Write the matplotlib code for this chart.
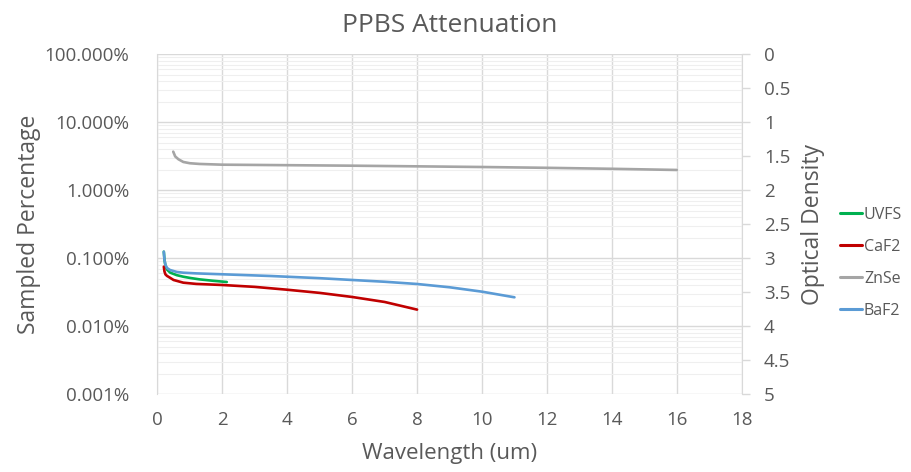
import matplotlib
matplotlib.use("Agg")
import matplotlib.pyplot as plt
from matplotlib.ticker import FixedLocator, FuncFormatter, LogLocator, NullFormatter

plt.rcParams['font.family'] = ['Open Sans', 'DejaVu Sans']

# Data (wavelength in um, sampled percentage in %)
uvfs_wl = [0.2, 0.22, 0.25, 0.3, 0.4, 0.6, 0.8, 1.0, 1.3, 1.7, 2.14]
uvfs_pct = [0.125, 0.095, 0.078, 0.068, 0.0614, 0.0565, 0.0536, 0.0515, 0.049, 0.0468, 0.0448]

caf2_wl = [0.2, 0.22, 0.25, 0.3, 0.34, 0.5, 0.8, 1.2, 2.0, 3.0, 4.0, 5.0, 6.0, 7.0, 8.0]
caf2_pct = [0.0753, 0.064, 0.058, 0.055, 0.0536, 0.048, 0.0438, 0.042, 0.0405, 0.038, 0.0345, 0.031, 0.027, 0.0228, 0.0176]

znse_wl = [0.49, 0.55, 0.65, 0.8, 1.0, 1.3, 2.0, 3.5, 6.0, 8.0, 10.0, 12.0, 14.0, 16.0]
znse_pct = [3.70, 3.15, 2.86, 2.61, 2.50, 2.44, 2.38, 2.35, 2.30, 2.25, 2.20, 2.14, 2.07, 1.99]

baf2_wl = [0.2, 0.22, 0.25, 0.3, 0.39, 0.6, 0.8, 1.2, 2.0, 3.5, 5.0, 6.0, 7.0, 8.0, 9.0, 10.0, 11.0]
baf2_pct = [0.125, 0.095, 0.080, 0.072, 0.0673, 0.063, 0.0614, 0.060, 0.0582, 0.0549, 0.051, 0.048, 0.0452, 0.0419, 0.0375, 0.0323, 0.0267]

series_names = ['UVFS', 'CaF2', 'ZnSe', 'BaF2']
series_colors = ['#00B050', '#C00000', '#A5A5A5', '#5B9BD5']

x_ticks = [0, 2, 4, 6, 8, 10, 12, 14, 16, 18]
y_ticks_pct = [0.001, 0.01, 0.1, 1, 10, 100]
od_ticks = [0, 0.5, 1, 1.5, 2, 2.5, 3, 3.5, 4, 4.5, 5]

txt = '#595959'
grid_major = '#D9D9D9'
grid_minor = '#EFEFEF'

fig = plt.figure(figsize=(9.12, 4.72), dpi=100)
ax = fig.add_axes([0.1725, 0.1646, 0.8133 - 0.1725, 0.885 - 0.1646])

data = [(uvfs_wl, uvfs_pct), (caf2_wl, caf2_pct), (znse_wl, znse_pct), (baf2_wl, baf2_pct)]
for (wl, pct), name, c in zip(data, series_names, series_colors):
    ax.plot(wl, pct, color=c, lw=1.9, label=name, solid_capstyle='round', solid_joinstyle='round', zorder=3)

ax.set_yscale('log')
ax.set_ylim(0.001, 100)
ax.set_xlim(0, 18)
ax.xaxis.set_major_locator(FixedLocator(x_ticks))
ax.yaxis.set_major_locator(FixedLocator(y_ticks_pct))
ax.yaxis.set_minor_locator(LogLocator(base=10, subs=range(2, 10)))
ax.yaxis.set_minor_formatter(NullFormatter())
ax.yaxis.set_major_formatter(FuncFormatter(lambda v, p: f"{v:.3f}%"))
ax.grid(True, which='major', axis='both', color=grid_major, lw=1.0, zorder=0)
ax.grid(True, which='minor', axis='y', color=grid_minor, lw=0.8, zorder=0)
ax.set_axisbelow(True)
ax.tick_params(axis='both', which='both', length=0, labelsize=13.5, labelcolor=txt)
ax.tick_params(axis='y', pad=20)
ax.tick_params(axis='x', pad=12)
for s in ['top', 'bottom', 'right']:
    ax.spines[s].set_visible(False)
ax.spines['left'].set_color(grid_major)

ax.set_xlabel('Wavelength (um)', fontsize=16, color=txt, labelpad=10)
ax.set_ylabel('Sampled Percentage', fontsize=16.5, color=txt, labelpad=3)
ax.set_title('PPBS Attenuation', fontsize=19, color=txt, pad=16)

ax2 = ax.twinx()
ax2.set_ylim(5, 0)
ax2.yaxis.set_major_locator(FixedLocator(od_ticks))
ax2.yaxis.set_major_formatter(FuncFormatter(lambda v, p: f"{v:g}"))
ax2.tick_params(axis='y', length=6, width=1, color=grid_major, labelsize=13.5, labelcolor=txt, pad=10)
for s in ['top', 'bottom', 'left']:
    ax2.spines[s].set_visible(False)
ax2.spines['right'].set_color(grid_major)
ax2.set_ylabel('Optical Density', fontsize=16.5, color=txt, labelpad=8)

leg = ax.legend(loc='center left', bbox_to_anchor=(0.921, 0.443), bbox_transform=fig.transFigure,
                frameon=False, fontsize=11.5, labelcolor=txt, handlelength=1.35, handletextpad=0.15,
                labelspacing=1.0, borderaxespad=0, borderpad=0)
for h in leg.get_lines():
    h.set_linewidth(2.2)

fig.savefig('out.png', dpi=100)
